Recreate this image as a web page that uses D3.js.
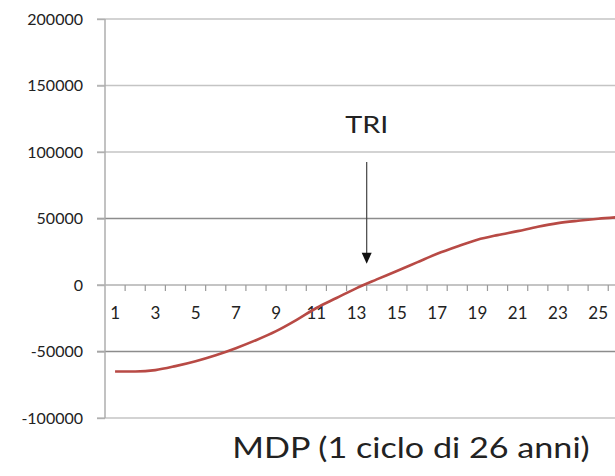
<!DOCTYPE html>
<html>
<head>
<meta charset="utf-8">
<script src="https://cdn.jsdelivr.net/npm/d3@7"></script>
<style>
  body { margin: 0; background: #fff; }
  svg { display: block; }
  text { font-family: Lato, "Open Sans", sans-serif; fill: #222; }
</style>
</head>
<body>
<svg class="chart" width="615" height="476"></svg>
<script>
// years of the cycle
const years = d3.range(1, 27)
const cashFlow = [
  -65000, -65000, -64000, -61000, -57300, -52800, -47500, -41500, -34700,
  -26400, -17300, -9800, -2300, 4200, 10500, 17000, 23500, 29000,
  34000, 37500, 40500, 43800, 46500, 48300, 49800, 51000
]
const yTicks = [200000, 150000, 100000, 50000, 0, -50000, -100000]
const xLabels = years.filter(d => d % 2 === 1)
const darkGrid = [50000, -50000]

const svg = d3.select('svg.chart')

const x = d3.scaleBand()
  .domain(years)
  .range([105, 105 + 26 * 20.13]) // chart runs past the right edge, like the picture
  .paddingInner(0)

const y = d3.scaleLinear()
  .domain([-100000, 200000])
  .range([418, 19])

const cx = d => x(d) + x.bandwidth() / 2

// horizontal gridlines (they start at the tick stub left of the axis)
svg.append('g')
  .selectAll('line')
  .data(yTicks.filter(d => d !== 0))
  .enter()
  .append('line')
  .attr('x1', 97)
  .attr('x2', 615)
  .attr('y1', d => y(d))
  .attr('y2', d => y(d))
  .attr('stroke', d => darkGrid.includes(d) ? '#8c8c8c' : '#c4c4c4')
  .attr('stroke-width', 1.6)

// y axis, plain hyphen for negatives like the source
const yAxis = svg.append('g')
  .attr('transform', 'translate(105,0)')
  .call(d3.axisLeft(y).tickValues(yTicks).tickSize(8).tickPadding(14).tickFormat(d => String(d)))
yAxis.select('.domain').attr('stroke', '#a8a8a8').attr('stroke-width', 1.4).attr('d', `M0,${y(200000)}V${y(-100000)}`)
yAxis.selectAll('.tick line').attr('stroke', '#b0b0b0').attr('stroke-width', 1.4)
yAxis.selectAll('.tick text')
  .attr('font-size', 16)
  .attr('fill', '#222')
  .style('font-family', 'Lato, sans-serif')

// x axis on the zero line, ticks between categories
const xAxis = svg.append('g')
  .attr('transform', `translate(0,${y(0)})`)
xAxis.append('line')
  .attr('x1', 97)
  .attr('x2', 615)
  .attr('stroke', '#b0b0b0')
  .attr('stroke-width', 1.6)
xAxis.selectAll('line.tk')
  .data(years)
  .enter()
  .append('line')
  .attr('class', 'tk')
  .attr('x1', d => x(d) + x.bandwidth())
  .attr('x2', d => x(d) + x.bandwidth())
  .attr('y1', 0)
  .attr('y2', 6)
  .attr('stroke', '#9a9a9a')
  .attr('stroke-width', 1.2)
xAxis.selectAll('text')
  .data(xLabels)
  .enter()
  .append('text')
  .attr('x', d => cx(d))
  .attr('y', 34)
  .attr('text-anchor', 'middle')
  .attr('font-size', 17)
  .attr('fill', '#333')
  .text(d => d)

// the cash flow curve
const line = d3.line()
  .x((d, i) => cx(years[i]))
  .y(d => y(d))
  .curve(d3.curveMonotoneX)

svg.append('path')
  .datum(cashFlow)
  .attr('d', line)
  .attr('fill', 'none')
  .attr('stroke', '#b84a45')
  .attr('stroke-width', 2.6)

// TRI annotation with arrow
const arrowX = x(13) + x.bandwidth()
svg.append('text')
  .attr('transform', `translate(${arrowX},${y(114000)}) scale(1.25,1)`)
  .attr('text-anchor', 'middle')
  .attr('font-size', 23)
  .attr('fill', '#111')
  .text('TRI')

svg.append('line')
  .attr('x1', arrowX)
  .attr('x2', arrowX)
  .attr('y1', y(92500))
  .attr('y2', y(22000))
  .attr('stroke', '#444')
  .attr('stroke-width', 1.2)

const tipY = y(16000)
svg.append('path')
  .attr('d', `M${arrowX - 5},${tipY - 11}L${arrowX + 5},${tipY - 11}L${arrowX},${tipY}Z`)
  .attr('fill', '#111')

// axis title (the source picture is stretched sideways a little)
svg.append('text')
  .attr('transform', 'translate(411,458) scale(1.22,1)')
  .attr('text-anchor', 'middle')
  .attr('font-size', 28)
  .attr('fill', '#222')
  .text('MDP (1 ciclo di 26 anni)')
</script>
</body>
</html>
